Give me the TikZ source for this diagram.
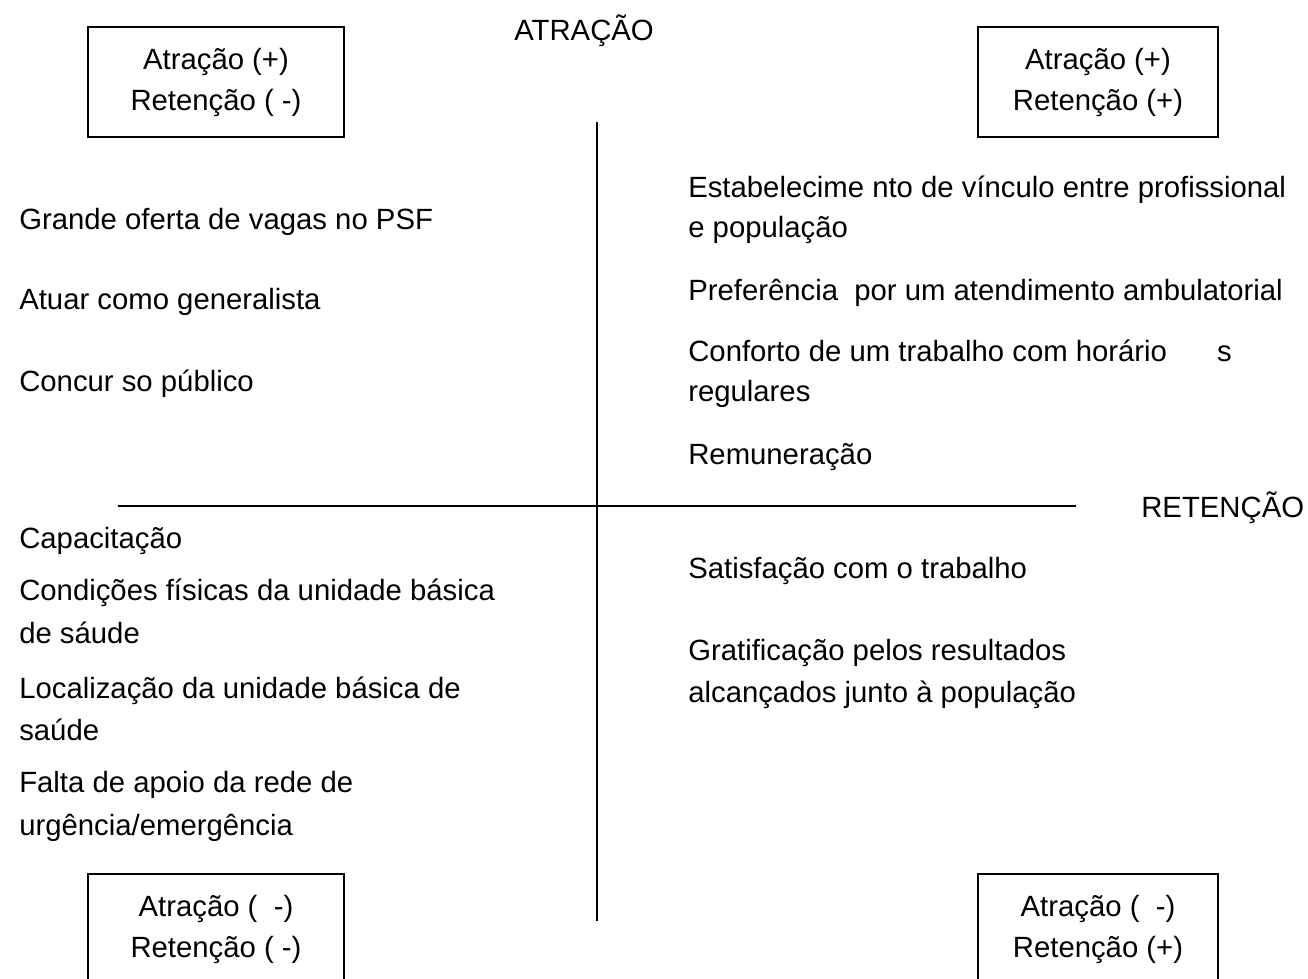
\documentclass[tikz,border=0pt]{standalone}
\usepackage{fontspec}
\setmainfont{Liberation Sans}
\usetikzlibrary{positioning}
\begin{document}
\begin{tikzpicture}[x=0.5pt,y=-0.5pt,line width=1.3pt,
  txt/.style={anchor=base west,inner sep=0pt,align=left,font=\fontsize{14.65}{#1}\selectfont},
  txt/.default=20.5,
  quad/.style={draw,line width=1.3pt,minimum height=55pt,inner sep=0pt,align=center,font=\fontsize{14.65}{20.5}\selectfont}]
  \clip (0,0) rectangle (1308,979);

  % axes
  \coordinate (top) at (597,122);
  \coordinate (bot) at (597,921);
  \coordinate (lft) at (118,506);
  \coordinate (rgt) at (1076,506);
  \draw (top) -- (bot);
  \draw (lft) -- (rgt);
  \node[txt] (ya) at (513,41) {ATRAÇÃO};
  \node[txt] (xa) at (1140,517) {RETENÇÃO};

  % quadrant boxes
  \node[quad,minimum width=128pt] (b1) at (216,82)   {Atração (+)\\ Retenção ( -)};
  \node[quad,minimum width=120pt] (b2) at (1098,82)  {Atração (+)\\ Retenção (+)};
  \node[quad,minimum width=128pt] (b3) at (216,929)  {Atração (\ \ -)\\ Retenção ( -)};
  \node[quad,minimum width=120pt] (b4) at (1098,929) {Atração (\ \ -)\\ Retenção (+)};

  % attraction +, retention - (base = last line)
  \node[txt] (a1) at (18,229) {Grande oferta de vagas no PSF};
  \node[txt] (a2) at (18,309) {Atuar como generalista};
  \node[txt] (a3) at (18,391) {Concur so público};

  % attraction +, retention +
  \node[txt=20] (p1) at (687,237) {Estabelecime nto de vínculo entre profissional\\ e população};
  \node[txt] (p2) at (687,300) {Preferência\ \ por um atendimento ambulatorial};
  \node[txt=20] (p3) at (687,401) {Conforto de um trabalho com horário\hspace{25pt}s\\ regulares};
  \node[txt] (p4) at (687,464) {Remuneração};

  % attraction -, retention -
  \node[txt] (m1) at (18,548) {Capacitação};
  \node[txt=21.5] (m2) at (18,643) {Condições físicas da unidade básica\\ de sáude};
  \node[txt=21] (m3) at (18,740) {Localização da unidade básica de\\ saúde};
  \node[txt=21.5] (m4) at (18,835) {Falta de apoio da rede de\\ urgência/emergência};

  % attraction -, retention +
  \node[txt] (r1) at (687,578) {Satisfação com o trabalho};
  \node[txt=21] (r2) at (687,702) {Gratificação pelos resultados\\ alcançados junto à população};
\end{tikzpicture}
\end{document}
